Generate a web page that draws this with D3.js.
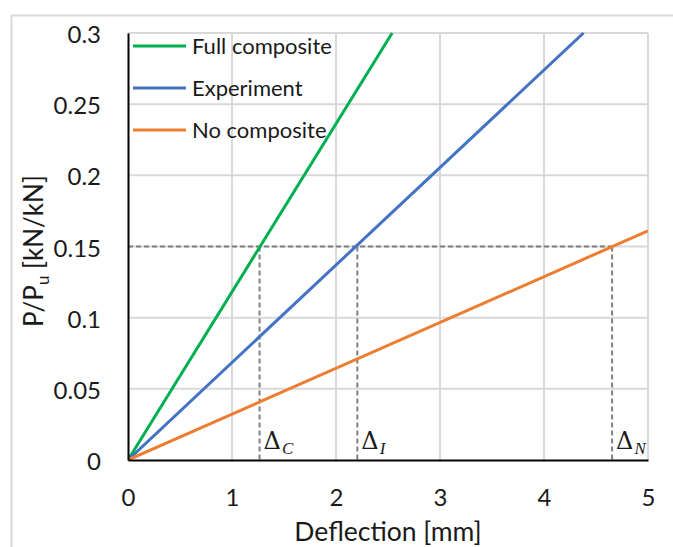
<!DOCTYPE html>
<html>
<head>
<meta charset="utf-8">
<script src="https://cdn.jsdelivr.net/npm/d3@7"></script>
<style>
  body { margin: 0; background: #fff; }
  svg { display: block; font-family: "Lato", "Open Sans", sans-serif; }
</style>
</head>
<body>
<svg id="chart" width="673" height="547"></svg>
<script>
// Load–deflection response (normalised load vs deflection)
const xTicks = [0, 1, 2, 3, 4, 5];
const yTicks = [0, 0.05, 0.1, 0.15, 0.2, 0.25, 0.3];
const yTickLabels = ["0", "0.05", "0.1", "0.15", "0.2", "0.25", "0.3"];

const seriesNames = ["Full composite", "Experiment", "No composite"];
const seriesColors = ["#00b050", "#4472c4", "#ed7d31"];
const fullComposite = [[0, 0], [2.54, 0.3]];
const experiment = [[0, 0], [4.38, 0.3]];
const noComposite = [[0, 0], [5, 0.161]];

// Reference load level and the deflections reached at it
const refLoad = 0.15;
const deltaX = [1.265, 2.205, 4.655];
const deltaSub = ["C", "I", "N"];

const svg = d3.select("#chart");
const plotLeft = 128, plotRight = 648, plotTop = 33, plotBottom = 460;
const textColor = "#1a1a1a";

const x = d3.scaleLinear().domain([0, 5]).range([plotLeft, plotRight]);
const y = d3.scaleLinear().domain([0, 0.3]).range([plotBottom, plotTop]);

// Outer chart frame
svg.append("rect")
  .attr("x", 11.5).attr("y", 15.5)
  .attr("width", 800).attr("height", 700)
  .attr("fill", "none").attr("stroke", "#d9d9d9").attr("stroke-width", 2);

// Gridlines
const grid = svg.append("g").attr("stroke", "#d9d9d9").attr("stroke-width", 2);
grid.selectAll(".gx").data(xTicks.slice(1)).join("line")
  .attr("x1", d => x(d)).attr("x2", d => x(d))
  .attr("y1", plotTop).attr("y2", plotBottom);
grid.selectAll(".gy").data(yTicks.slice(1)).join("line")
  .attr("x1", plotLeft).attr("x2", plotRight)
  .attr("y1", d => y(d)).attr("y2", d => y(d));

// Dashed guides at the reference load
const guides = svg.append("g")
  .attr("stroke", "#7f7f7f").attr("stroke-width", 2)
  .attr("stroke-dasharray", "5,3").attr("fill", "none");
guides.append("line")
  .attr("x1", x(0)).attr("x2", x(d3.max(deltaX)))
  .attr("y1", y(refLoad)).attr("y2", y(refLoad));
guides.selectAll(".v").data(deltaX).join("line")
  .attr("x1", d => x(d)).attr("x2", d => x(d))
  .attr("y1", y(refLoad)).attr("y2", y(0));

// Series lines
svg.append("clipPath").attr("id", "plot-clip")
  .append("rect").attr("x", plotLeft).attr("y", plotTop - 1)
  .attr("width", plotRight - plotLeft).attr("height", plotBottom - plotTop + 1);
const line = d3.line().x(d => x(d[0])).y(d => y(d[1]));
const allSeries = [fullComposite, experiment, noComposite];
svg.append("g").attr("clip-path", "url(#plot-clip)")
  .selectAll("path").data(allSeries).join("path")
  .attr("d", line)
  .attr("fill", "none")
  .attr("stroke", (d, i) => seriesColors[i])
  .attr("stroke-width", 3);

// Axes
const xAxis = svg.append("g").attr("transform", `translate(0,${plotBottom})`)
  .call(d3.axisBottom(x).tickValues(xTicks).tickSize(0).tickFormat(d3.format("d")));
const yAxis = svg.append("g").attr("transform", `translate(${plotLeft},0)`)
  .call(d3.axisLeft(y).tickValues(yTicks).tickSize(0).tickPadding(27)
    .tickFormat((d, i) => yTickLabels[i]));
[xAxis, yAxis].forEach(a => {
  a.select(".domain").attr("stroke", "#000").attr("stroke-width", 2);
  a.selectAll("text").attr("font-size", 24).attr("fill", textColor)
    .attr("font-family", "Lato, 'Open Sans', sans-serif");
});
xAxis.selectAll("text").attr("y", 46).attr("dy", 0);
yAxis.selectAll("text").attr("dy", "0.4em");

// Axis titles
svg.append("text")
  .attr("x", (plotLeft + plotRight) / 2).attr("y", 541)
  .attr("text-anchor", "middle").attr("font-size", 26.5).attr("fill", textColor)
  .text("Deflection [mm]");
const yTitle = svg.append("text")
  .attr("transform", `translate(43,251) rotate(-90)`)
  .attr("text-anchor", "middle").attr("font-size", 26).attr("fill", textColor);
yTitle.append("tspan").text("P/P");
yTitle.append("tspan").attr("font-size", 17).attr("dy", 6).text("u");
yTitle.append("tspan").attr("dy", -6).text(" [kN/kN]");

// Legend
const legend = svg.append("g");
const rows = legend.selectAll("g").data(seriesNames).join("g")
  .attr("transform", (d, i) => `translate(133,${46 + i * 42})`);
rows.append("line").attr("x1", 0).attr("x2", 53)
  .attr("stroke", (d, i) => seriesColors[i]).attr("stroke-width", 3);
rows.append("text").attr("x", 59).attr("dy", "0.35em")
  .attr("font-size", 22).attr("fill", textColor).text(d => d);

// Deflection markers Δ_C, Δ_I, Δ_N
const dl = svg.selectAll(".dlabel").data(deltaX).join("text")
  .attr("x", d => x(d) + 4).attr("y", 449)
  .attr("font-family", "'DejaVu Serif', 'Liberation Serif', serif")
  .attr("font-size", 24).attr("fill", textColor);
dl.append("tspan").text("Δ");
dl.append("tspan").attr("font-style", "italic").attr("font-size", 17)
  .attr("font-family", "'Liberation Serif', serif")
  .attr("dx", 1).attr("dy", 5).text((d, i) => deltaSub[i]);
</script>
</body>
</html>
